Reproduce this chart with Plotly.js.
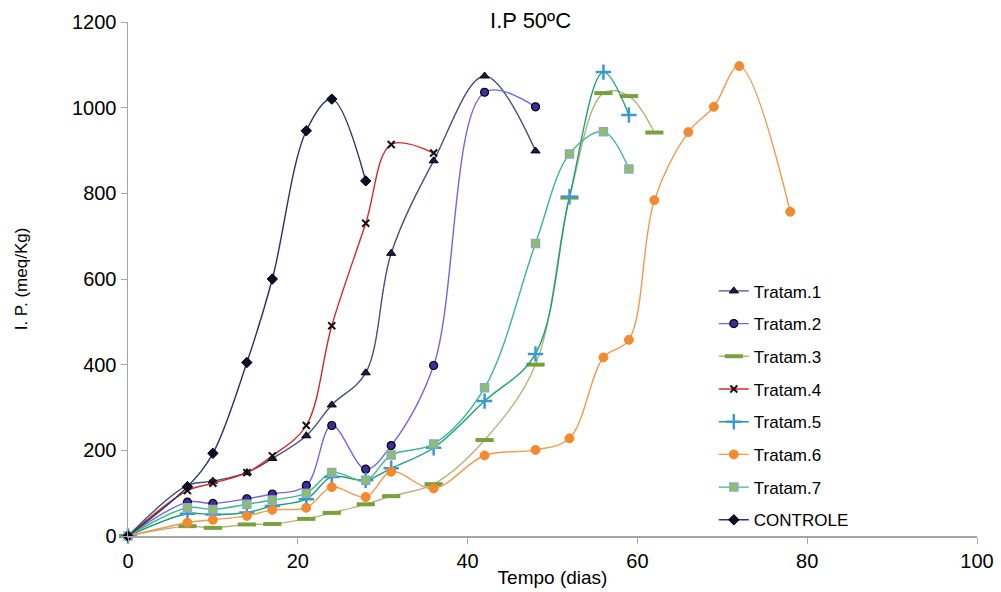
<!DOCTYPE html>
<html>
<head>
<meta charset="utf-8">
<script src="https://cdn.plot.ly/plotly-3.0.1.min.js"></script>
<style>html,body{margin:0;padding:0;background:#fff;}#chart{width:1001px;height:592px;}</style>
</head>
<body>
<div id="chart"></div>
<script>
// Days (Tempo, dias)
const daysT1 = [0, 7, 10, 14, 17, 21, 24, 28, 31, 36, 42, 48];
const valsT1 = [0, 118, 128, 148, 181, 234, 306, 381, 660, 876, 1074, 899];

const daysT2 = [0, 7, 10, 14, 17, 21, 24, 28, 31, 36, 42, 48];
const valsT2 = [0, 79, 76, 87, 98, 118, 258, 156, 211, 398, 1036, 1002];

const daysT3 = [0, 7, 10, 14, 17, 21, 24, 28, 31, 36, 42, 48, 52, 56, 59, 62];
const valsT3 = [0, 23, 19, 27, 28, 40, 54, 74, 93, 121, 224, 400, 790, 1034, 1027, 942];

const daysT4 = [0, 7, 10, 14, 17, 21, 24, 28, 31, 36];
const valsT4 = [0, 106, 123, 148, 187, 258, 491, 730, 914, 894];

const daysT5 = [0, 7, 10, 14, 17, 21, 24, 28, 31, 36, 42, 48, 52, 56, 59];
const valsT5 = [0, 52, 50, 55, 70, 86, 138, 130, 158, 206, 315, 425, 792, 1083, 983];

const daysT6 = [0, 7, 10, 14, 17, 21, 24, 28, 31, 36, 42, 48, 52, 56, 59, 62, 66, 69, 72, 78];
const valsT6 = [0, 31, 38, 47, 61, 66, 114, 91, 150, 111, 188, 201, 228, 417, 458, 784, 943, 1002, 1097, 757];

const daysT7 = [0, 7, 10, 14, 17, 21, 24, 28, 31, 36, 42, 48, 52, 56, 59];
const valsT7 = [0, 66, 62, 74, 84, 100, 148, 130, 189, 215, 346, 683, 892, 944, 857];

const daysC = [0, 7, 10, 14, 17, 21, 24, 28];
const valsC = [0, 115, 193, 405, 600, 946, 1020, 829];

const names = ["Tratam.1", "Tratam.2", "Tratam.3", "Tratam.4", "Tratam.5", "Tratam.6", "Tratam.7", "CONTROLE"];
const xTicks = [0, 20, 40, 60, 80, 100];
const yTicks = [0, 200, 400, 600, 800, 1000, 1200];

function tr(x, y, name, lineColor, marker) {
  return {
    x: x, y: y, name: name, type: 'scatter', mode: 'lines+markers',
    legendgroup: name,
    line: {color: lineColor, width: 1.4, shape: 'spline', smoothing: 1},
    marker: marker,
    cliponaxis: false
  };
}

const data = [
  tr(daysT1, valsT1, names[0], '#43527a', {symbol: 'triangle-up', size: 8, color: '#1a1d4a', line: {color: '#000', width: 1}}),
  tr(daysT2, valsT2, names[1], '#7466e0', {symbol: 'circle', size: 8, color: '#3b2f9e', line: {color: '#000', width: 1.2}}),
  tr(daysT3, valsT3, names[2], '#b2b57c', {symbol: 'line-ew', size: 13, color: '#78a03c', line: {color: '#78a03c', width: 4}}),
  tr(daysT4, valsT4, names[3], '#d42a2a', {symbol: 'x-thin', size: 7, color: '#000', line: {color: '#111', width: 2}}),
  tr(daysT5, valsT5, names[4], '#1fa074', {symbol: 'cross-thin', size: 11, color: '#3a9ad0', line: {color: '#3a9ad0', width: 2.5}}),
  tr(daysT6, valsT6, names[5], '#f09a50', {symbol: 'circle', size: 9, color: '#f28a30', line: {color: '#f28a30', width: 1}}),
  tr(daysT7, valsT7, names[6], '#3cb88a', {symbol: 'square', size: 8, color: '#8cc060', line: {color: '#8aa8cc', width: 1.5}}),
  tr(daysC, valsC, names[7], '#25356a', {symbol: 'diamond', size: 8, color: '#0d0d2a', line: {color: '#000', width: 1}})
];

const layout = {
  width: 1001, height: 592,
  paper_bgcolor: '#fff', plot_bgcolor: '#fff',
  margin: {l: 128, r: 24, t: 22, b: 56},
  font: {family: 'Liberation Sans, Arial, sans-serif', color: '#000'},
  title: {text: 'I.P 50ºC', font: {size: 22, color: '#000'}, x: 0.53, xanchor: 'center', y: 0.965, yanchor: 'middle'},
  showlegend: true,
  legend: {x: 0.69, xanchor: 'left', y: 0.511, yanchor: 'top', font: {size: 17, color: '#000'},
           tracegroupgap: 7.6, traceorder: 'grouped', bgcolor: 'rgba(0,0,0,0)'},
  xaxis: {
    range: [0, 100], tickvals: xTicks, ticktext: xTicks.map(String),
    showgrid: false, zeroline: false, showline: true, linecolor: '#a6a6a6', linewidth: 1.5,
    ticks: 'outside', ticklen: 6, tickcolor: '#a6a6a6', tickfont: {size: 20},
    title: {text: 'Tempo (dias)', font: {size: 19}, standoff: 0}
  },
  yaxis: {
    range: [0, 1200], tickvals: yTicks, ticktext: yTicks.map(String),
    showgrid: false, zeroline: false, showline: true, linecolor: '#a6a6a6', linewidth: 1.5,
    ticks: 'outside', ticklen: 6, tickcolor: '#a6a6a6', tickfont: {size: 20},
    title: {text: 'I. P. (meq/Kg)', font: {size: 17}, standoff: 40}
  }
};

Plotly.newPlot('chart', data, layout, {displayModeBar: false, staticPlot: true});
</script>
</body>
</html>
